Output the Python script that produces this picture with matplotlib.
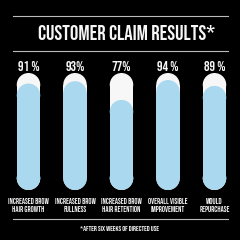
import matplotlib
matplotlib.use("Agg")
from matplotlib import pyplot as plt
from matplotlib.patches import Rectangle, Ellipse
from matplotlib.lines import Line2D

# chart data
categories = ["INCREASED BROW\nHAIR GROWTH", "INCREASED BROW\nFULLNESS",
              "INCREASED BROW\nHAIR RETENTION", "OVERALL VISIBLE\nIMPROVEMENT",
              "WOULD\nREPURCHASE"]
values = [91, 93, 77, 94, 89]
value_labels = ["91 %", "93%", "77%", "94 %", "89 %"]
title = "CUSTOMER CLAIM RESULTS*"
footnote = "*AFTER SIX WEEKS OF DIRECTED USE"

BG = "#000000"
WHITE = "#f7f7f7"
BLUE = "#a9d8ef"
LINE = "#bbbbbb"

plt.rcParams['font.family'] = ['Bebas Neue', 'DejaVu Sans']

W = H = 240
fig = plt.figure(figsize=(2.4, 2.4), dpi=100, facecolor=BG)


def fx(px):
    return px / W


def fy(py):
    return 1 - py / H


# bar area in pixels
step = 46.5
left = 28.5 - step / 2
top, bottom = 73, 190
ax = fig.add_axes([fx(left), fy(bottom), fx(step * 5), (bottom - top) / H])
ax.set_facecolor(BG)
ax.set_xlim(-0.5, 4.5)
ax.set_ylim(0, 100)
ax.axis("off")

bw = 0.505
# vertical radius of the caps in data units, so the caps look round
ry = (bw / 2) * step / ((bottom - top) / 100)


def capsule(x, y0, y1, color):
    ax.add_patch(Rectangle((x - bw / 2, y0 + ry), bw, y1 - y0 - 2 * ry,
                           color=color, lw=0))
    ax.add_patch(Ellipse((x, y0 + ry), bw, 2 * ry, color=color, lw=0))
    ax.add_patch(Ellipse((x, y1 - ry), bw, 2 * ry, color=color, lw=0))


for i, v in enumerate(values):
    capsule(i, 0, 100, WHITE)
    capsule(i, 0, v, BLUE)
    ax.text(i, 102, value_labels[i], ha="center", va="bottom", color=WHITE,
            fontsize=10, clip_on=False)
    ax.text(i, -7, categories[i], ha="center", va="top", color=WHITE,
            fontsize=5.6, linespacing=1.3, clip_on=False)

# title and rules
fig.text(fx(127), fy(32), title, ha="center", va="center", color=WHITE,
         fontsize=15)
for py in (16, 51, 219):
    fig.add_artist(Line2D([fx(13), fx(228)], [fy(py), fy(py)], color=LINE, lw=0.8))
fig.text(0.5, fy(228.5), footnote, ha="center", va="center", color=WHITE,
         fontsize=5.3)

fig.savefig("out.png", dpi=100, facecolor=BG)
